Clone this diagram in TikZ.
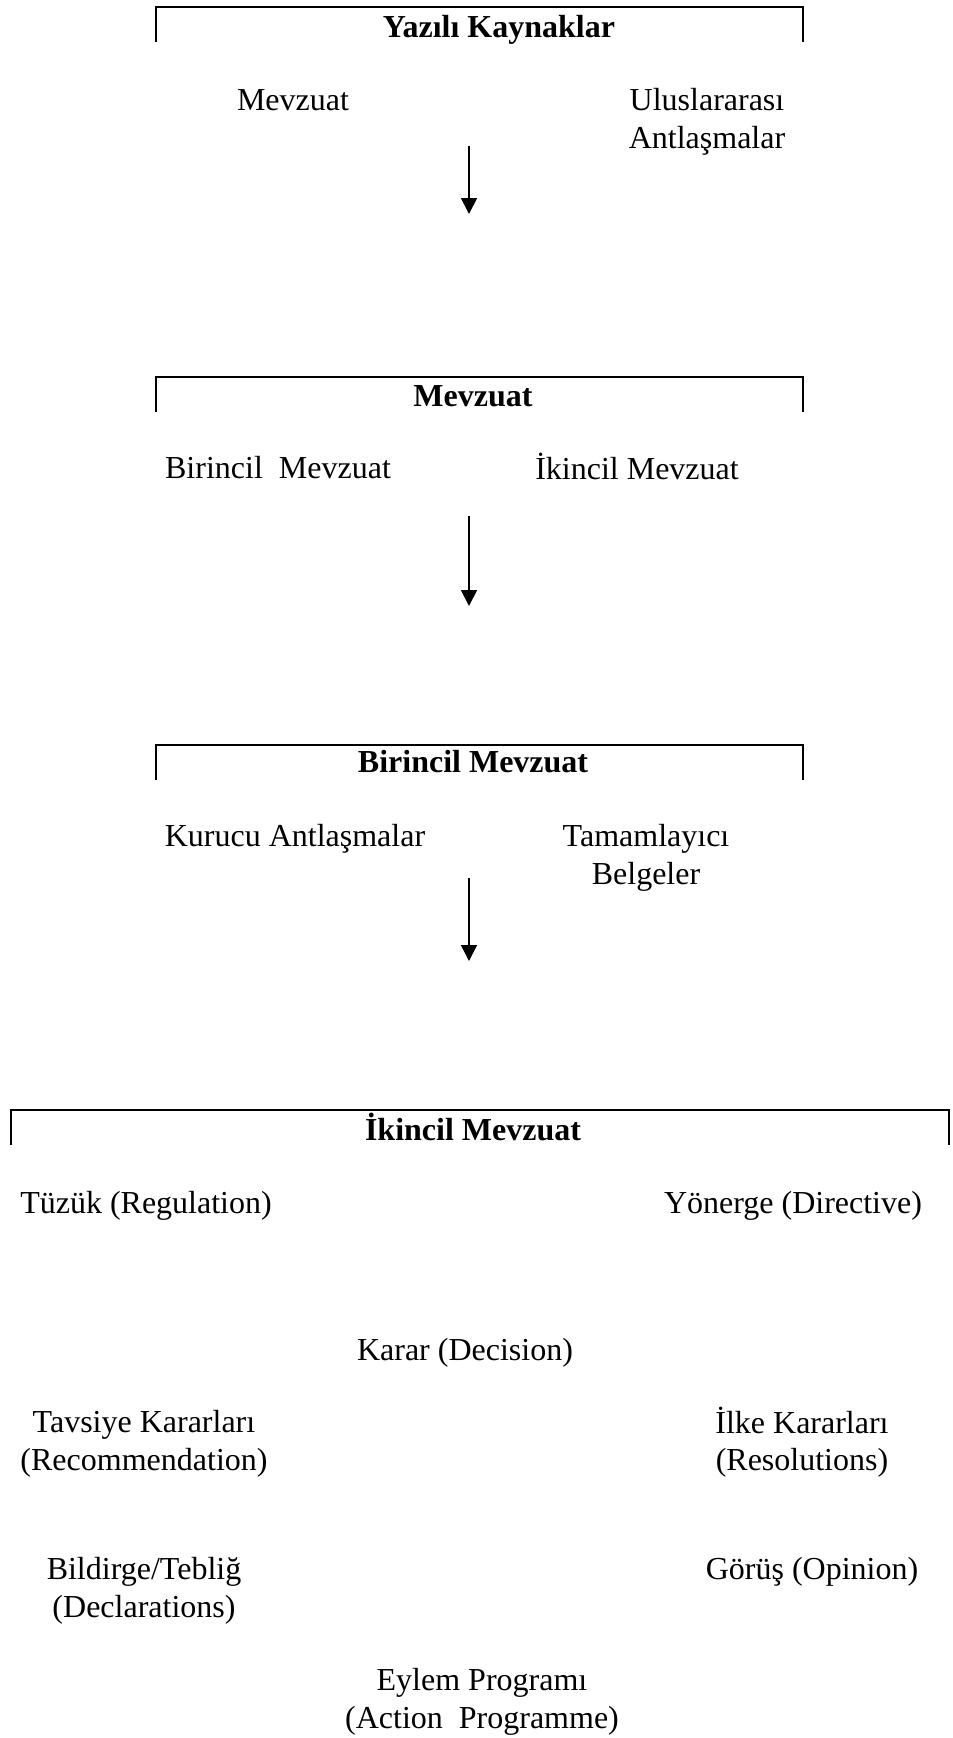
\documentclass[tikz,border=0pt]{standalone}
\usepackage{fontspec}
\setmainfont{Liberation Serif}
\usepackage{tikz}
\usetikzlibrary{arrows.meta}

\begin{document}
\begin{tikzpicture}[x=1pt,y=-1pt,
    txt/.style={inner sep=0pt,align=center,font=\fontsize{32}{37.5}\selectfont},
    head/.style={txt,font=\fontsize{32}{37.5}\selectfont\bfseries},
    bracket/.style={line width=1.6pt},
    down/.style={line width=1.8pt,-{Triangle[width=16pt,length=16pt]}}]
                \useasboundingbox (0,0) rectangle (953,1738);
                % Yazili Kaynaklar
                \draw[bracket] (156,42) -- (156,7) -- (803,7) -- (803,42);
                \node[head] (yazili) at (499,30) {Yazılı Kaynaklar};
                \node[txt] (mevzuat1) at (293,100) {Mevzuat};
                \node[txt] (ulus) at (707,122) {Uluslararası\\Antlaşmalar};
                \coordinate (a1s) at (469,146);
                \coordinate (a1e) at (469,214);
                \draw[down] (a1s) -- (a1e);
                % Mevzuat
                \draw[bracket] (156,412) -- (156,377) -- (803,377) -- (803,412);
                \node[head] (mevzuat) at (473,396) {Mevzuat};
                \node[txt] (birincil1) at (278,468) {Birincil\ \ Mevzuat};
                \node[txt] (ikincil1) at (637,466) {İkincil Mevzuat};
                \coordinate (a2s) at (469,516);
                \coordinate (a2e) at (469,606);
                \draw[down] (a2s) -- (a2e);
                % Birincil Mevzuat
                \draw[bracket] (156,780) -- (156,745) -- (803,745) -- (803,780);
                \node[head] (birincil) at (473,762) {Birincil Mevzuat};
                \node[txt] (kurucu) at (295,839) {Kurucu Antlaşmalar};
                \node[txt] (tamam) at (646,858) {Tamamlayıcı\\Belgeler};
                \coordinate (a3s) at (469,878);
                \coordinate (a3e) at (469,961);
                \draw[down] (a3s) -- (a3e);
                % Ikincil Mevzuat
                \draw[bracket] (11,1145) -- (11,1110) -- (949,1110) -- (949,1145);
                \node[head] (ikincil) at (473,1127) {İkincil Mevzuat};
                \node[txt] (tuzuk) at (146,1206) {Tüzük (Regulation)};
                \node[txt] (yonerge) at (793,1206) {Yönerge (Directive)};
                \node[txt] (karar) at (465,1353) {Karar (Decision)};
                \node[txt] (tavsiye) at (144,1444) {Tavsiye Kararları\\(Recommendation)};
                \node[txt] (ilke) at (802,1442) {İlke Kararları\\(Resolutions)};
                \node[txt] (bildirge) at (144,1591) {Bildirge/Tebliğ\\(Declarations)};
                \node[txt] (gorus) at (812,1572) {Görüş (Opinion)};
                \node[txt] (eylem) at (482,1702) {Eylem Programı\\(Action\ \ Programme)};
            \end{tikzpicture}
\end{document}
